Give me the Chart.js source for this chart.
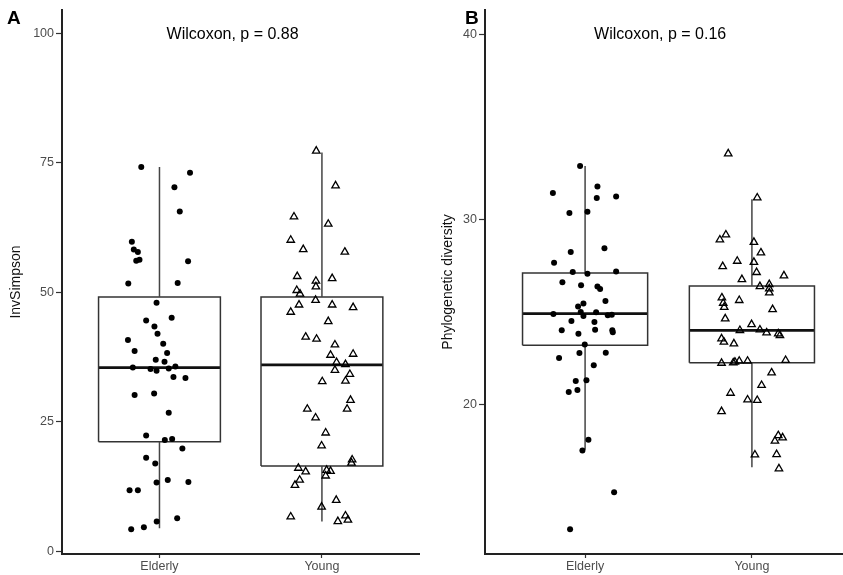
<!DOCTYPE html>
<html>
<head>
<meta charset="utf-8">
<script src="https://cdn.jsdelivr.net/npm/chart.js@4.4.1/dist/chart.umd.min.js"></script>
<style>
  html, body { margin: 0; padding: 0; background: #fff; }
  body { width: 843px; height: 575px; position: relative; overflow: hidden; }
  canvas { position: absolute; top: 0; }
  #panelA { left: 0; }
  #panelB { left: 425px; }
</style>
</head>
<body>
<canvas id="panelA" width="425" height="575"></canvas>
<canvas id="panelB" width="440" height="575"></canvas>
<script>
// Two box plots with jittered points (InvSimpson / Phylogenetic diversity).

const GROUPS = ['Elderly', 'Young'];
const GROUP_POS = [1, 2];

// ── Panel A: InvSimpson ──────────────────────────────────────────────────────

const invTicks = [0, 25, 50, 75, 100];
const invQ1 = [21.2, 16.5];
const invMedian = [35.5, 36.0];
const invQ3 = [49.1, 49.1];
const invLow = [4.5, 5.8];
const invHigh = [74.2, 77.0];

const invElderlyX = [0.888, 1.188, 1.092, 1.125, 0.83, 0.842, 0.867, 0.857, 0.877, 1.176, 0.808, 1.112, 0.982, 1.075, 0.918, 0.969, 0.988, 0.806, 1.023, 0.847, 1.047, 0.977, 1.031, 1.098, 0.836, 0.945, 0.982, 1.057, 1.086, 1.16, 0.847, 0.967, 1.057, 0.918, 1.033, 1.078, 1.141, 0.918, 0.974, 0.982, 1.051, 1.178, 0.816, 0.867, 1.109, 0.983, 0.904, 0.826];
const invElderlyY = [74.2, 73.1, 70.3, 65.6, 59.8, 58.3, 57.8, 56.1, 56.3, 56.0, 51.7, 51.8, 48.0, 45.1, 44.6, 43.4, 42.0, 40.8, 40.1, 38.7, 38.3, 37.0, 36.6, 35.7, 35.5, 35.2, 34.9, 35.3, 33.7, 33.5, 30.2, 30.5, 26.8, 22.4, 21.5, 21.7, 19.9, 18.1, 17.0, 13.3, 13.8, 13.4, 11.8, 11.8, 6.4, 5.8, 4.7, 4.3];
const invYoungX = [1.965, 2.084, 1.828, 2.039, 1.808, 1.885, 2.141, 1.848, 2.063, 1.963, 1.963, 1.845, 1.865, 1.961, 1.859, 2.063, 2.192, 1.808, 2.039, 1.9, 1.967, 2.08, 2.053, 2.192, 2.09, 2.145, 2.08, 2.172, 2.002, 2.145, 2.176, 2.155, 1.91, 1.961, 2.023, 1.998, 2.186, 2.182, 1.855, 1.9, 2.029, 2.053, 2.023, 1.863, 1.834, 2.088, 1.998, 1.808, 2.145, 2.16, 2.098];
const invYoungY = [77.3, 70.6, 64.6, 63.2, 60.1, 58.3, 57.8, 53.1, 52.7, 52.2, 51.1, 50.4, 49.7, 48.5, 47.6, 47.6, 47.1, 46.2, 44.4, 41.4, 41.0, 39.9, 37.9, 38.1, 36.5, 36.1, 35.0, 34.2, 32.8, 32.9, 29.2, 27.5, 27.5, 25.8, 22.9, 20.4, 17.7, 17.1, 16.1, 15.4, 15.7, 15.5, 14.6, 13.8, 12.8, 9.9, 8.6, 6.7, 6.9, 6.1, 5.8];

// ── Panel B: Phylogenetic diversity ──────────────────────────────────────────

const pdTicks = [20, 30, 40];
const pdQ1 = [23.2, 22.25];
const pdMedian = [24.9, 24.0];
const pdQ3 = [27.1, 26.4];
const pdLow = [17.55, 16.6];
const pdHigh = [32.88, 31.08];

const pdElderlyX = [0.970, 1.074, 0.807, 1.07, 1.186, 0.906, 1.014, 0.914, 1.116, 0.814, 0.926, 1.014, 1.186, 0.864, 0.976, 1.074, 1.09, 1.122, 0.99, 0.958, 0.81, 0.974, 0.99, 1.066, 1.136, 1.16, 0.918, 1.056, 0.860, 1.06, 1.163, 0.96, 1.166, 0.998, 0.966, 1.124, 0.844, 1.052, 0.944, 1.008, 0.902, 0.954, 1.02, 0.984, 1.174, 0.91];
const pdElderlyY = [32.87, 31.77, 31.41, 31.14, 31.23, 30.34, 30.41, 28.23, 28.43, 27.65, 27.15, 27.06, 27.18, 26.59, 26.43, 26.37, 26.23, 25.58, 25.45, 25.29, 24.88, 24.99, 24.77, 24.97, 24.82, 24.84, 24.50, 24.45, 24.0, 24.03, 24.0, 23.82, 23.89, 23.24, 22.77, 22.79, 22.5, 22.12, 21.26, 21.30, 20.67, 20.78, 18.09, 17.51, 15.25, 13.25];
const pdYoungX = [1.858, 2.032, 1.844, 1.808, 2.012, 2.054, 1.912, 2.012, 1.825, 2.028, 1.940, 2.192, 2.048, 2.104, 2.104, 2.104, 1.820, 1.828, 1.834, 1.924, 2.124, 1.840, 1.998, 1.928, 2.048, 2.088, 2.158, 2.168, 1.818, 1.832, 1.892, 1.818, 1.888, 1.898, 1.924, 1.974, 2.202, 2.118, 2.058, 1.872, 1.974, 2.032, 1.818, 2.158, 2.184, 2.138, 2.018, 2.148, 2.162];
const pdYoungY = [33.54, 31.16, 29.16, 28.89, 28.76, 28.19, 27.74, 27.68, 27.45, 27.13, 26.75, 26.95, 26.37, 26.48, 26.25, 26.03, 25.76, 25.47, 25.25, 25.62, 25.13, 24.63, 24.32, 24.0, 24.03, 23.87, 23.82, 23.73, 23.55, 23.37, 23.28, 22.23, 22.25, 22.29, 22.34, 22.34, 22.38, 21.71, 21.03, 20.61, 20.25, 20.22, 19.62, 18.32, 18.20, 18.02, 17.28, 17.30, 16.53];

// ── Styling ──────────────────────────────────────────────────────────────────

const FONT = '"Liberation Sans", Arial, Helvetica, sans-serif';
const BOX_HALF = 0.375;
const LINE_COLOR = '#333333';
const TICK_COLOR = '#4d4d4d';

// ── Dataset builders ─────────────────────────────────────────────────────────

function lineDs(points, width, color) {
  return {
    data: points,
    showLine: true,
    borderColor: color,
    borderWidth: width,
    borderJoinStyle: 'miter',
    borderCapStyle: 'butt',
    pointRadius: 0,
    fill: false,
    order: 2,
  };
}

function boxDatasets(q1, med, q3, lo, hi) {
  const out = [];
  GROUP_POS.forEach((x, i) => {
    const l = x - BOX_HALF, r = x + BOX_HALF;
    out.push(lineDs([{ x, y: q3[i] }, { x, y: hi[i] }], 1.5, '#444444'));
    out.push(lineDs([{ x, y: lo[i] }, { x, y: q1[i] }], 1.5, '#444444'));
    out.push(lineDs([
      { x: l, y: q1[i] }, { x: r, y: q1[i] }, { x: r, y: q3[i] },
      { x: l, y: q3[i] }, { x: l, y: q1[i] },
    ], 1.5, LINE_COLOR));
    out.push(lineDs([{ x: l, y: med[i] }, { x: r, y: med[i] }], 2.8, '#111111'));
  });
  return out;
}

function pointsDs(xs, ys, style) {
  const tri = style === 'triangle';
  return {
    data: xs.map((x, i) => ({ x, y: ys[i] })),
    showLine: false,
    pointStyle: style,
    pointRadius: tri ? 4.3 : 3,
    pointBackgroundColor: tri ? 'rgba(0,0,0,0)' : '#000',
    pointBorderColor: '#000',
    pointBorderWidth: tri ? 1.3 : 0,
    order: 0,
  };
}

// ── Text plugin (test label + panel letter) ──────────────────────────────────

const panelText = {
  id: 'panelText',
  afterDraw(chart, args, opts) {
    const { ctx, scales } = chart;
    ctx.save();
    ctx.fillStyle = '#000';
    ctx.font = '16px ' + FONT;
    ctx.textAlign = 'center';
    ctx.textBaseline = 'middle';
    ctx.fillText(opts.label, scales.x.getPixelForValue(opts.labelX), scales.y.getPixelForValue(opts.labelY) + 1);
    ctx.font = 'bold 19px ' + FONT;
    ctx.textAlign = 'left';
    ctx.textBaseline = 'alphabetic';
    ctx.fillText(opts.letter, opts.letterX, 24);
    ctx.restore();
  },
};

// ── Create ───────────────────────────────────────────────────────────────────

function makePanel(canvasId, cfg) {
  const ctx = document.getElementById(canvasId).getContext('2d');
  return new Chart(ctx, {
    type: 'scatter',
    data: {
      datasets: [
        pointsDs(cfg.elderlyX, cfg.elderlyY, 'circle'),
        pointsDs(cfg.youngX, cfg.youngY, 'triangle'),
        ...boxDatasets(cfg.q1, cfg.median, cfg.q3, cfg.low, cfg.high),
      ],
    },
    options: {
      responsive: false,
      animation: false,
      events: [],
      layout: { padding: { top: 10, right: cfg.padRight, bottom: 0, left: 0 } },
      plugins: {
        legend: { display: false },
        tooltip: { enabled: false },
        panelText: { label: cfg.label, labelX: 1.45, labelY: cfg.labelY, letter: cfg.letter, letterX: cfg.letterX },
      },
      scales: {
        x: {
          type: 'linear',
          min: 0.4,
          max: 2.6,
          afterBuildTicks: s => { s.ticks = GROUP_POS.map(v => ({ value: v })); },
          afterFit: s => { s.height = 21; },
          ticks: {
            autoSkip: false,
            maxRotation: 0,
            padding: 1,
            color: TICK_COLOR,
            font: { family: FONT, size: 12.5 },
            callback: (v, i) => GROUPS[i],
          },
          grid: { display: true, drawOnChartArea: false, drawTicks: true, tickLength: 4, tickColor: LINE_COLOR, tickWidth: 1.2 },
          border: { display: true, color: '#222222', width: 2 },
        },
        y: {
          type: 'linear',
          min: cfg.yMin,
          max: cfg.yMax,
          afterBuildTicks: s => { s.ticks = cfg.ticks.map(v => ({ value: v })); },
          afterFit: s => { s.width = cfg.axisWidth; },
          ticks: {
            padding: 2,
            color: TICK_COLOR,
            font: { family: FONT, size: 12.5 },
          },
          title: {
            display: true,
            text: cfg.yLabel,
            color: '#111',
            font: { family: FONT, size: 14 },
            padding: { top: cfg.titlePad, bottom: 0 },
          },
          grid: { display: true, drawOnChartArea: false, drawTicks: true, tickLength: 6, tickColor: LINE_COLOR, tickWidth: 1.2 },
          border: { display: true, color: '#222222', width: 2 },
        },
      },
    },
    plugins: [panelText],
  });
}

makePanel('panelA', {
  elderlyX: invElderlyX, elderlyY: invElderlyY, youngX: invYoungX, youngY: invYoungY,
  q1: invQ1, median: invMedian, q3: invQ3, low: invLow, high: invHigh,
  ticks: invTicks, yMin: -0.48, yMax: 104.5, yLabel: 'InvSimpson',
  axisWidth: 62, padRight: 4, titlePad: 8,
  label: 'Wilcoxon, p = 0.88', labelY: 100, letter: 'A', letterX: 7,
});

makePanel('panelB', {
  elderlyX: pdElderlyX, elderlyY: pdElderlyY, youngX: pdYoungX, youngY: pdYoungY,
  q1: pdQ1, median: pdMedian, q3: pdQ3, low: pdLow, high: pdHigh,
  ticks: pdTicks, yMin: 11.92, yMax: 41.3, yLabel: 'Phylogenetic diversity',
  axisWidth: 60, padRight: 13, titlePad: 15,
  label: 'Wilcoxon, p = 0.16', labelY: 40, letter: 'B', letterX: 40,
});
</script>
</body>
</html>
